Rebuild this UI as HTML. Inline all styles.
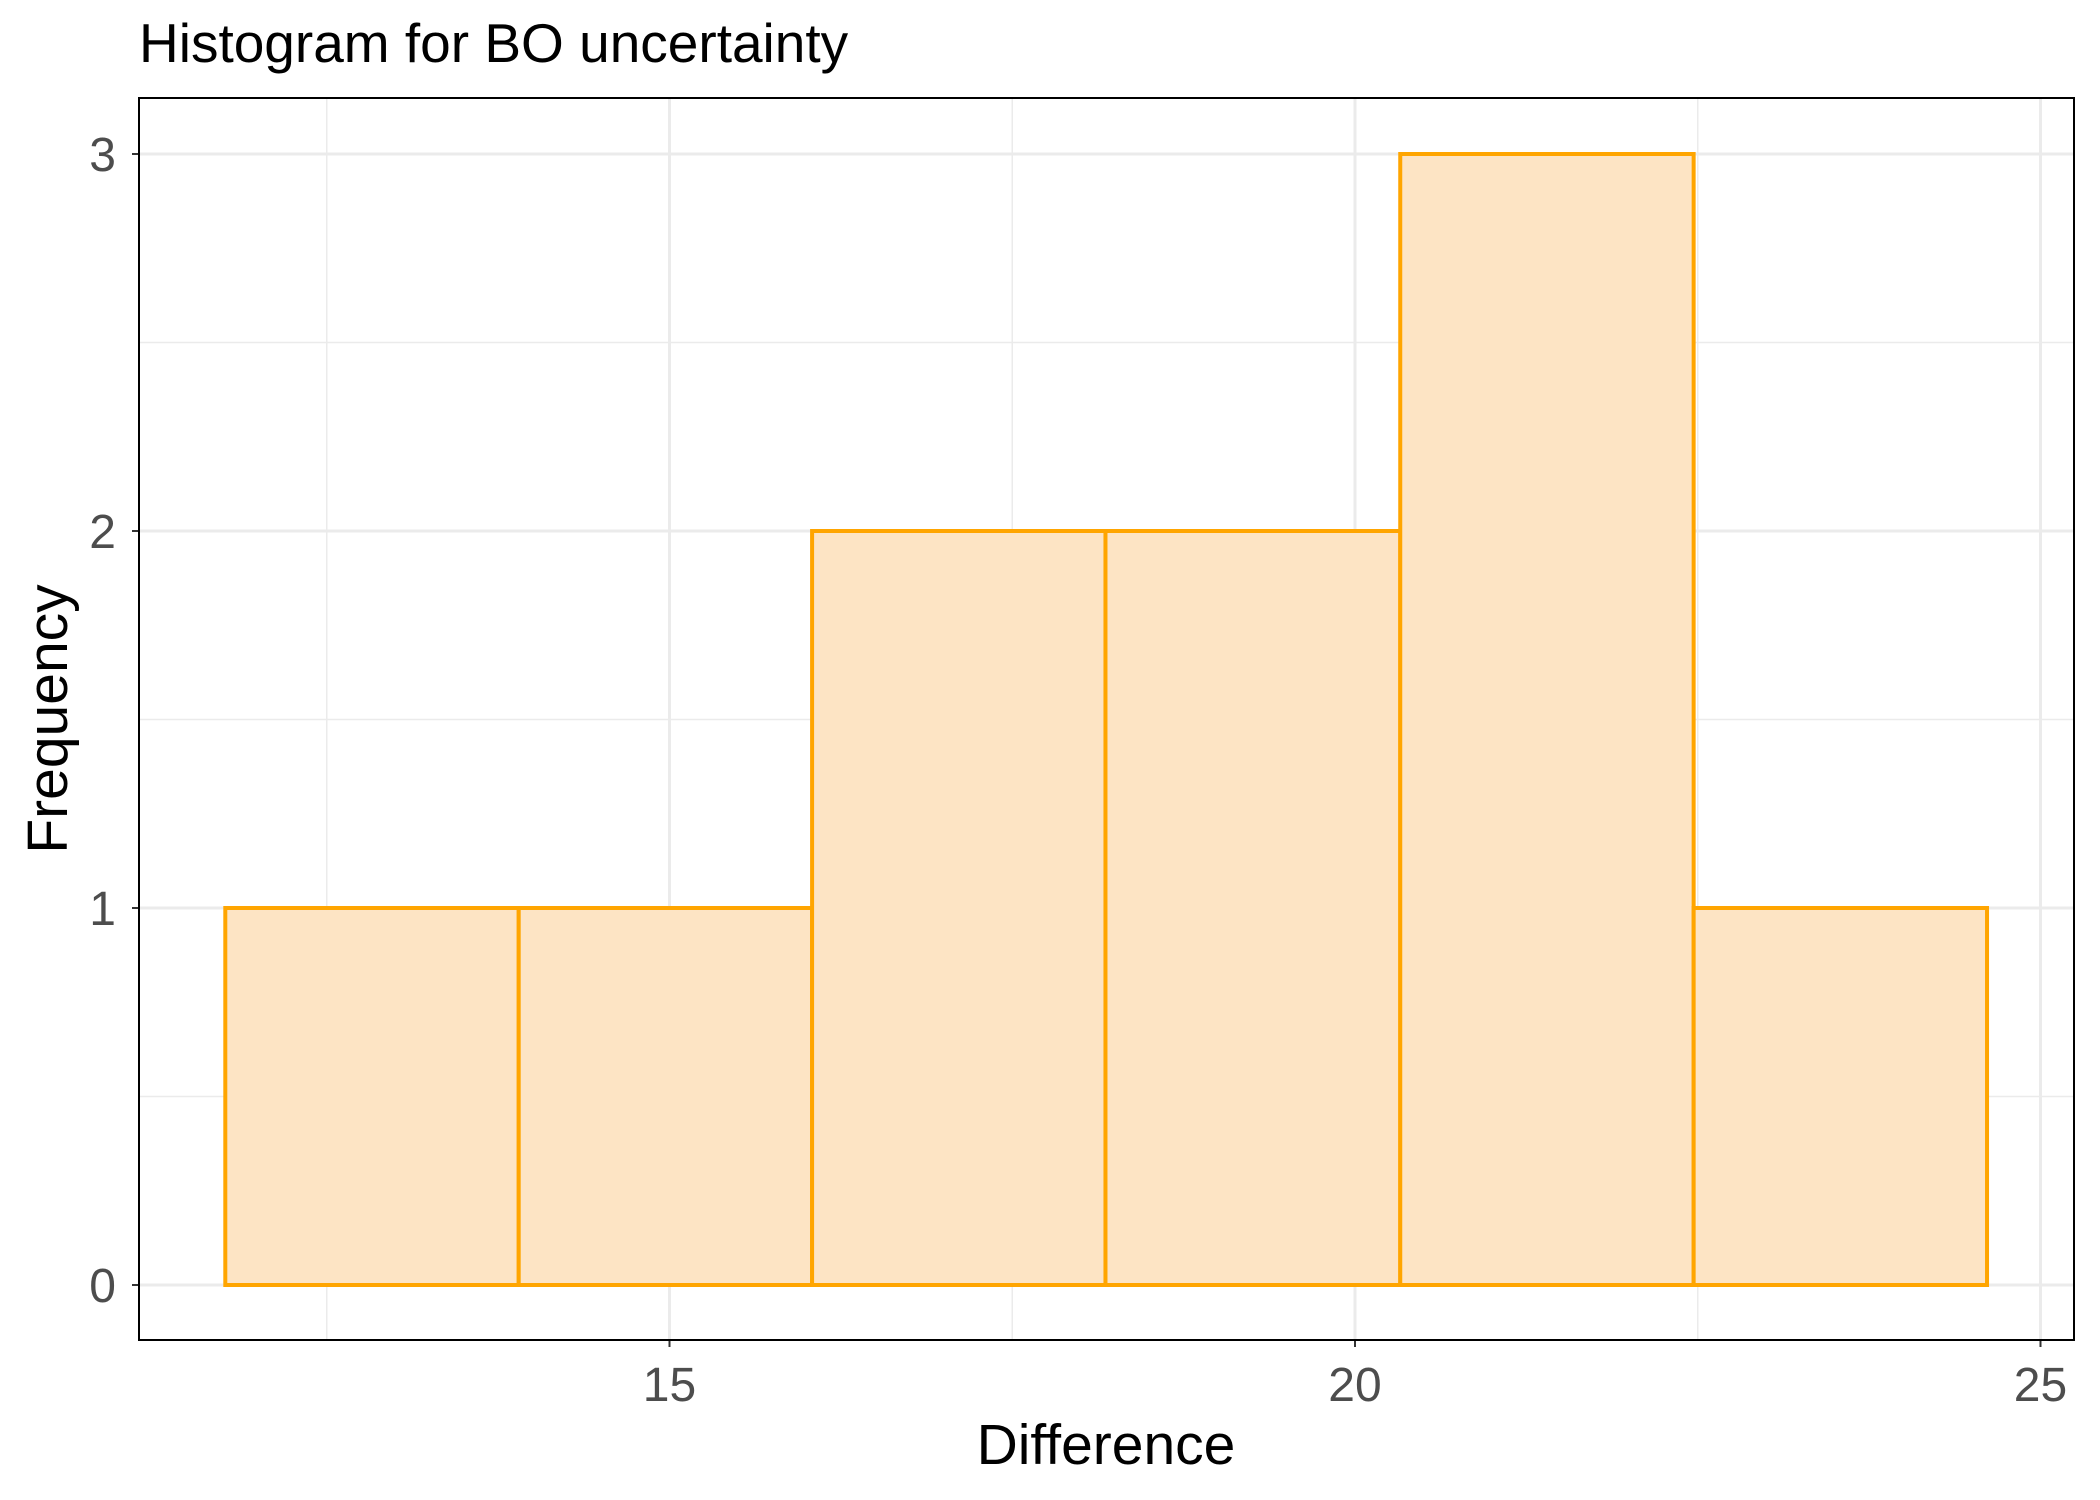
<!DOCTYPE html>
<html><head><meta charset="utf-8"><style>
body{margin:0;background:#fff}
svg{display:block;font-family:"Liberation Sans",sans-serif}
</style></head><body>
<svg id="chart" width="2100" height="1500">
<text x="139" y="62" font-size="55" fill="#000">Histogram for BO uncertainty</text>
<g id="grid"></g><g id="bars"></g><g id="axes"></g>
<rect x="139" y="98" width="1935" height="1242" fill="none" stroke="#000" stroke-width="2"/>
<text x="1106" y="1464" font-size="57" text-anchor="middle" fill="#000">Difference</text>
<text transform="translate(67,719) rotate(-90)" font-size="57" text-anchor="middle" fill="#000">Frequency</text>
</svg>
<script>
const binEdges=[11.76,13.90,16.04,18.18,20.33,22.47,24.61];
const counts=[1,1,2,2,3,1];
const xTicks=[15,20,25];
const xMinor=[12.5,17.5,22.5];
const yTicks=[0,1,2,3];
const yMinor=[0.5,1.5,2.5];
const X=v=>669.5+(v-15)*137.1;
const Y=v=>1285-v*377;
const NS="http://www.w3.org/2000/svg";
function mk(t,a,p){const e=document.createElementNS(NS,t);for(const k in a)e.setAttribute(k,a[k]);p.appendChild(e);return e;}
const g=document.getElementById('grid'),b=document.getElementById('bars'),ax=document.getElementById('axes');
xMinor.forEach(v=>{const e=mk('line',{x1:X(v),x2:X(v),y1:98,y2:1340,stroke:'#ebebeb','stroke-width':1.5},g);

});
yMinor.forEach(v=>{const e=mk('line',{x1:139,x2:2074,y1:Y(v),y2:Y(v),stroke:'#ebebeb','stroke-width':1.5},g);

});
xTicks.forEach(v=>{const e=mk('line',{x1:X(v),x2:X(v),y1:98,y2:1340,stroke:'#ebebeb','stroke-width':3},g);


const tk=mk('line',{x1:X(v),x2:X(v),y1:1340,y2:1347,stroke:'#333','stroke-width':2},ax);


const t=mk('text',{x:X(v),y:1401,'font-size':48,'text-anchor':'middle',fill:'#4d4d4d'},ax);t.textContent=v;

});
yTicks.forEach(v=>{const e=mk('line',{x1:139,x2:2074,y1:Y(v),y2:Y(v),stroke:'#ebebeb','stroke-width':3},g);


const tk=mk('line',{x1:132,x2:139,y1:Y(v),y2:Y(v),stroke:'#333','stroke-width':2},ax);


const t=mk('text',{x:116,y:Y(v)+17,'font-size':48,'text-anchor':'end',fill:'#4d4d4d'},ax);t.textContent=v;

});
counts.forEach((c,i)=>{const x0=X(binEdges[i]),x1=X(binEdges[i+1]);
const r=mk('rect',{x:x0,y:Y(c),width:x1-x0,height:Y(0)-Y(c),fill:'#fde4c4',stroke:'#ffa500','stroke-width':4},b);

});
</script>
</body></html>
